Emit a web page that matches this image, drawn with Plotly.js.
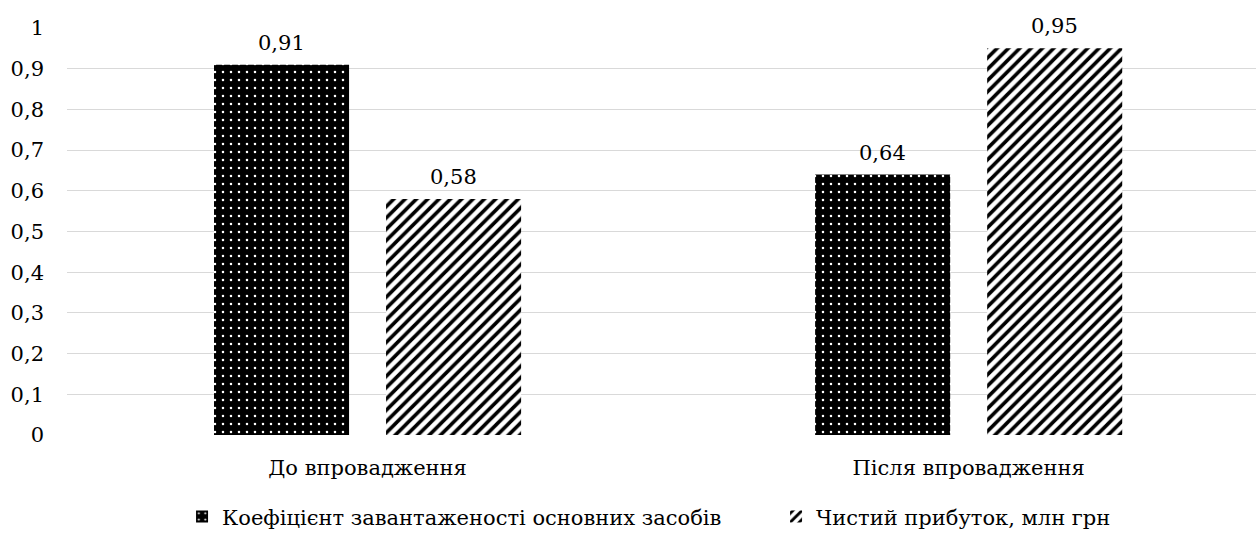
<!DOCTYPE html>
<html>
<head>
<meta charset="utf-8">
<script src="https://cdn.plot.ly/plotly-3.0.1.min.js"></script>
<style>html,body{margin:0;padding:0;background:#fff;}#chart{width:1259px;height:535px;}</style>
</head>
<body>
<div id="chart"></div>
<script>
// Categories and series values
const categories = ['До впровадження', 'Після впровадження'];
const seriesNames = ['Коефіцієнт завантаженості основних засобів', 'Чистий прибуток, млн грн'];
const loadFactor = [0.91, 0.64];
const netProfit = [0.58, 0.95];
const yTicks = [0, 0.1, 0.2, 0.3, 0.4, 0.5, 0.6, 0.7, 0.8, 0.9, 1];
const yTickLabels = ['0', '0,1', '0,2', '0,3', '0,4', '0,5', '0,6', '0,7', '0,8', '0,9', '1'];

const FONT = 'DejaVu Serif';
const FS = 21;

const traces = [
  {
    type: 'bar', name: seriesNames[0], x: categories, y: loadFactor,
    marker: {color: 'black', line: {width: 0},
      pattern: {shape: '.', bgcolor: 'black', fgcolor: 'white', size: 8, solidity: 0.08, fillmode: 'replace'}},
    hoverinfo: 'skip'
  },
  {
    type: 'bar', name: seriesNames[1], x: categories, y: netProfit,
    marker: {color: 'white', line: {width: 0},
      pattern: {shape: '/', bgcolor: 'white', fgcolor: 'black', size: 8, solidity: 0.45, fillmode: 'replace'}},
    hoverinfo: 'skip'
  }
];

// Value labels above each bar
const fmt = v => String(v).replace('.', ',');
const annotations = [];
[loadFactor, netProfit].forEach((vals, s) => {
  vals.forEach((v, i) => {
    annotations.push({
      x: categories[i], y: v, xref: 'x', yref: 'y', text: fmt(v), showarrow: false,
      xshift: s === 0 ? -86 : 86, yshift: 22, font: {family: FONT, size: FS, color: '#000'}
    });
  });
});

const layout = {
  width: 1259, height: 535,
  margin: {l: 67, r: 3, t: 28, b: 100},
  paper_bgcolor: '#fff', plot_bgcolor: '#fff',
  font: {family: FONT, size: FS, color: '#000'},
  separators: ', ',
  barmode: 'group', bargap: 0.4276, bargroupgap: 0.215,
  showlegend: true,
  legend: {orientation: 'h', x: 0.1446, xanchor: 'left', xref: 'container', y: 0.034, yanchor: 'middle', yref: 'container',
    font: {family: FONT, size: FS, color: '#000'}, itemwidth: 30, entrywidth: 549, entrywidthmode: 'pixels',
    traceorder: 'normal'},
  xaxis: {type: 'category', range: [-0.5, 1.478], showgrid: false, zeroline: false, showline: false, ticks: '',
    automargin: false, ticklabelstandoff: 18, tickfont: {family: FONT, size: FS, color: '#000'}},
  yaxis: {range: [0, 1], tickvals: yTicks, ticktext: yTickLabels, showgrid: true, gridcolor: '#d9d9d9', gridwidth: 1,
    zeroline: false, showline: false, ticks: '', automargin: false, ticklabelstandoff: 22,
    tickfont: {family: FONT, size: FS, color: '#000'}},
  annotations: annotations
};

Plotly.newPlot('chart', traces, layout, {displayModeBar: false, staticPlot: true});
</script>
</body>
</html>
